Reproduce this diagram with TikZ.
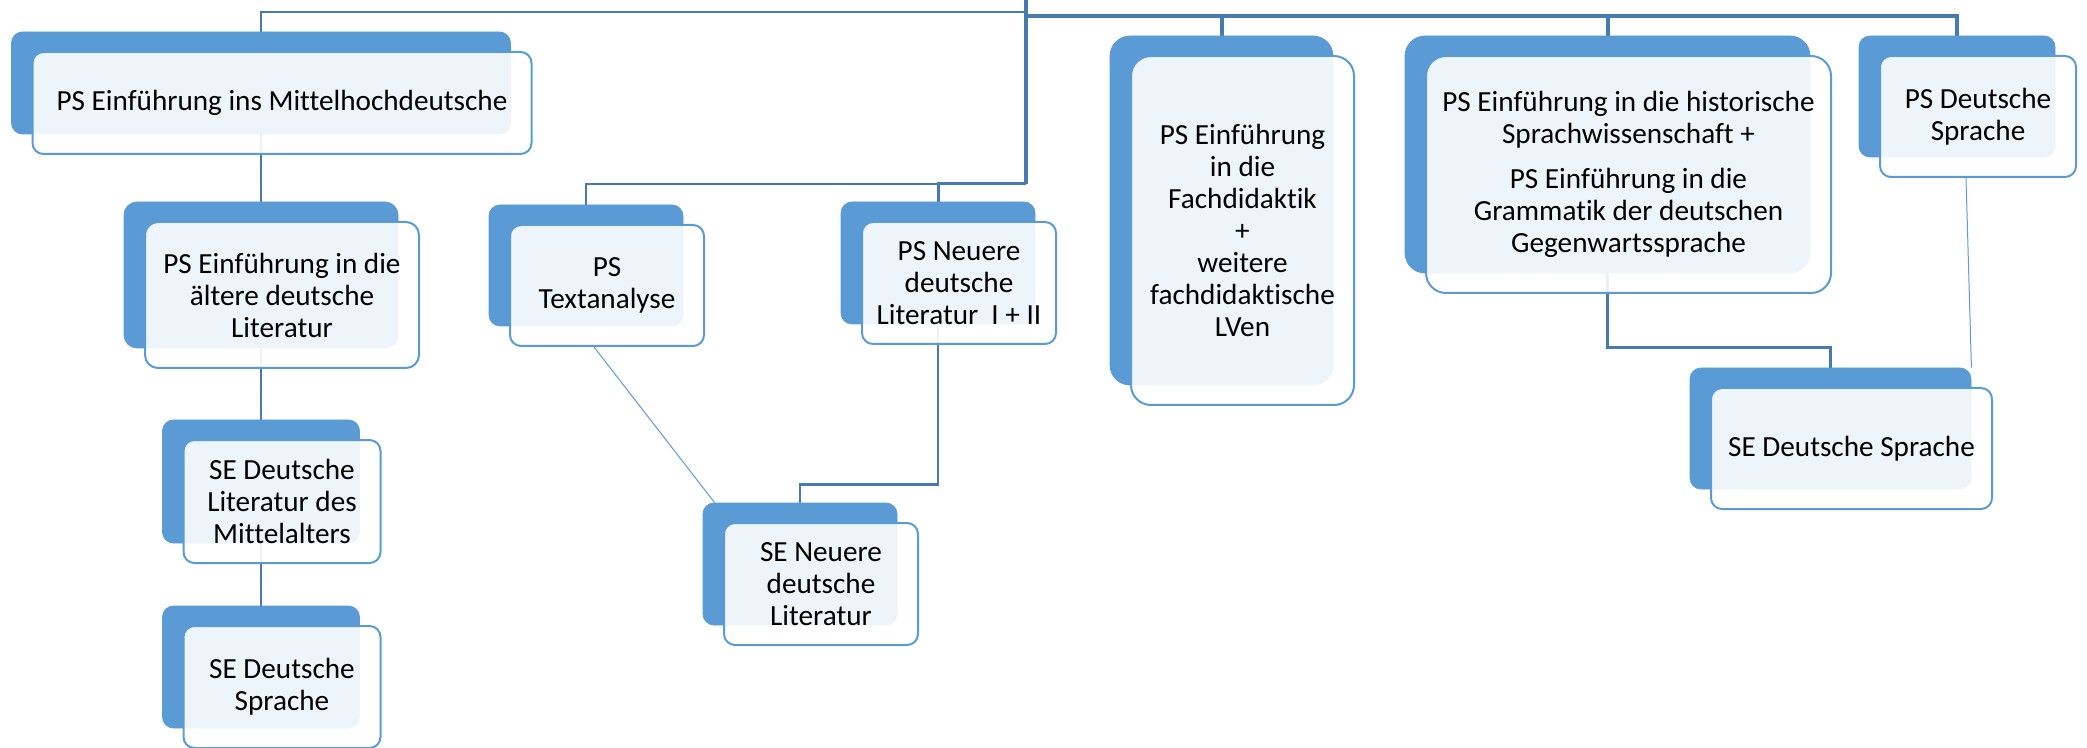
\documentclass[tikz,border=0pt]{standalone}
\usepackage{fontspec}
\setmainfont{Carlito}[Ligatures=NoCommon]
\usetikzlibrary{calc,backgrounds}
\definecolor{blau}{RGB}{91,155,213}
\definecolor{linie}{RGB}{72,122,178}

\begin{document}
\begin{tikzpicture}[x=0.5pt,y=-0.5pt]
\tikzset{hinten/.style={draw=blau, fill=blau, inner sep=0pt},
  vorne/.style={draw=blau, line width=1pt, fill=white, fill opacity=0.9, text opacity=1, inner sep=0pt, align=center, font=\fontsize{14.6}{16}\selectfont},
  gross/.style n args={3}{minimum width=#1, minimum height=#2, rounded corners=#3},
  verbinder/.style={draw=linie, line width=1.3pt},
  duenn/.style={draw=blau, line width=0.5pt}}
\useasboundingbox (0,0) rectangle (2087,748);
% linke Spalte
\node[hinten, gross={249.5pt}{51pt}{5.5pt}] (B1) at (261,83) {};
\node[vorne, gross={249.5pt}{51pt}{5.5pt}] (T1) at ($(B1)+(21,20)$) {PS Einführung ins Mittelhochdeutsche};
\node[hinten, gross={137pt}{73pt}{6.5pt}] (B2) at (261,275) {};
\node[vorne, gross={137pt}{73pt}{6.5pt}] (T2) at ($(B2)+(21,20)$) {PS Einführung in die\\ältere deutsche\\Literatur};
\node[hinten, gross={98.5pt}{61.5pt}{5.5pt}] (B3) at (261,481.5) {};
\node[vorne, gross={98.5pt}{61.5pt}{5.5pt}] (T3) at ($(B3)+(21,20)$) {SE Deutsche\\Literatur des\\Mittelalters};
\node[hinten, gross={98.5pt}{61pt}{5.5pt}] (B4) at (261,667) {};
\node[vorne, gross={98.5pt}{61pt}{5.5pt}] (T4) at ($(B4)+(21,20)$) {SE Deutsche\\Sprache};
% Mitte
\node[hinten, gross={97pt}{60.5pt}{5.5pt}] (B5) at (586,265.5) {};
\node[vorne, gross={97pt}{60.5pt}{5.5pt}] (T5) at ($(B5)+(21,20)$) {PS\\Textanalyse};
\node[hinten, gross={97pt}{61pt}{5.5pt}] (B6) at (938,263) {};
\node[vorne, gross={97pt}{61pt}{5.5pt}] (T6) at ($(B6)+(21,20)$) {PS Neuere\\deutsche\\Literatur~~I + II};
\node[hinten, gross={97pt}{61pt}{5.5pt}] (B7) at (800,564) {};
\node[vorne, gross={97pt}{61pt}{5.5pt}] (T7) at ($(B7)+(21,20)$) {SE Neuere\\deutsche\\Literatur};
% rechte Seite
\node[hinten, gross={111.5pt}{174.5pt}{10pt}] (B8) at (1221.5,210.5) {};
\node[vorne, gross={111.5pt}{174.5pt}{10pt}] (T8) at ($(B8)+(21,20)$) {PS Einführung\\in die\\Fachdidaktik\\+\\weitere\\fachdidaktische\\LVen};
\node[hinten, gross={202.5pt}{118.5pt}{10pt}] (B9) at (1607.5,154.5) {};
\node[vorne, gross={202.5pt}{118.5pt}{10pt}] (T9) at ($(B9)+(21,20)$) {PS Einführung in die historische\\Sprachwissenschaft +\\[6.5pt]PS Einführung in die\\Grammatik der deutschen\\Gegenwartssprache};
\node[hinten, gross={98pt}{60.5pt}{5.5pt}] (B10) at (1957,96.5) {};
\node[vorne, gross={98pt}{60.5pt}{5.5pt}] (T10) at ($(B10)+(21,20)$) {PS Deutsche\\Sprache};
\node[hinten, gross={140.5pt}{60.5pt}{5.5pt}] (B11) at (1830.5,428.5) {};
\node[vorne, gross={140.5pt}{60.5pt}{5.5pt}] (T11) at ($(B11)+(21,20)$) {SE Deutsche Sprache};
% Linien
\begin{scope}[on background layer]
\coordinate (wurzel) at (1026,0);
\coordinate (links) at (1026,12);
\coordinate (rechts) at (1026,16);
\coordinate (mitte) at (1026,184);
\draw[verbinder, line width=1.6pt] (wurzel) -- (mitte);
\draw[verbinder] (B1.north) |- (links);
\draw[verbinder, line width=2pt] (rechts) -| (B8.north);
\draw[verbinder, line width=2pt] (rechts) -| (B9.north);
\draw[verbinder, line width=2pt] (rechts) -| (B10.north);
\draw[verbinder, line width=1.5pt] (mitte) -| (B6.north);
\draw[verbinder, line width=1pt] (mitte) -| (B5.north);
\draw[verbinder] (B1.south) -- (B2.north);
\draw[verbinder] (B2.south) -- (B3.north);
\draw[verbinder] (B3.south) -- (B4.north);
\draw[verbinder] (B6.south) -- ++(0,160) -| (B7.north);
\draw[verbinder] (B9.south) -- ++(0,74) -| (B11.north);
\draw[duenn] ($(T5.south)+(-13,0)$) -- ($(B7.north west)+(12,0)$);
\draw[duenn] ($(T10.south)+(-12,0)$) -- (B11.north east);
\end{scope}
\end{tikzpicture}
\end{document}
